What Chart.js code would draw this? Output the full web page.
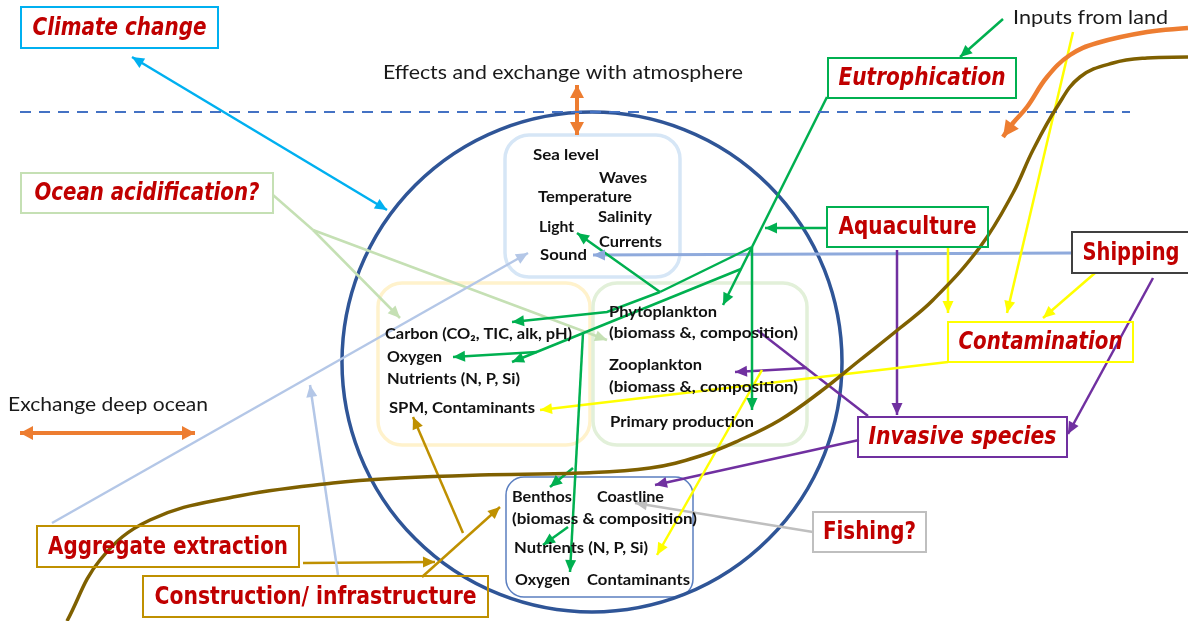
<!DOCTYPE html>
<html>
<head>
<meta charset="utf-8">
<script src="https://cdn.jsdelivr.net/npm/chart.js@4.4.1/dist/chart.umd.min.js"></script>
<style>
  html, body { margin: 0; padding: 0; background: #fff; }
  #wrap { width: 1188px; height: 621px; }
</style>
</head>
<body>
<div id="wrap"><canvas id="diagram" width="1188" height="621"></canvas></div>
<script>
// ---- diagram data (page coordinates, y grows downwards) ----
const coastX = [67, 100, 150, 233, 333, 400, 480, 580, 650, 700, 740, 780, 820, 860, 900, 933, 980, 1013, 1033, 1057, 1080, 1113, 1147, 1188];
const coastY = [621, 560, 520, 497, 483, 478, 475, 473, 468, 456, 440, 420, 392, 360, 328, 300, 247, 193, 150, 107, 77, 63, 58, 57];
const runoffX = [1188, 1147, 1097, 1070, 1047, 1027, 1013, 1003];
const runoffY = [28, 32, 43, 55, 77, 107, 123, 137];
const seaLevelX = [20, 1130];
const seaLevelY = [112, 112];

// double-headed exchanges
const atmosphereArrow = [577, 85, 577, 135];
const deepOceanArrow = [20, 433, 195, 433];
const climateArrow = [132, 57, 387, 210];

// one-way arrows, flat x,y lists, head at the last point
const greenArrows = [
  [1003, 19, 960, 57],
  [827, 228, 765, 228],
  [752, 247, 723, 305],
  [752, 247, 752, 410],
  [660, 292, 577, 233],
  [660, 292, 607, 312, 512, 322],
  [741, 269, 512, 362],
  [537, 352, 453, 357],
  [583, 333, 570, 572],
  [573, 468, 550, 487],
  [568, 527, 543, 545]
];
const greenLines = [[827, 97, 752, 247], [752, 247, 660, 292]];
const yellowArrows = [
  [948, 247, 948, 313],
  [1073, 32, 1007, 313],
  [1095, 273, 1043, 318],
  [948, 362, 540, 410],
  [762, 370, 657, 555]
];
const purpleArrows = [
  [897, 250, 897, 415],
  [1153, 278, 1068, 434],
  [807, 368, 735, 372],
  [859, 440, 655, 485]
];
const purpleLines = [[868, 416, 757, 330]];
const paleBlueArrows = [[52, 523, 528, 253], [338, 575, 310, 385]];
const shippingArrow = [1072, 253, 593, 255];
const paleGreenArrows = [[313, 230, 400, 318], [313, 230, 607, 340]];
const paleGreenLines = [[273, 195, 313, 230]];
const goldArrows = [[303, 563, 435, 562], [422, 577, 500, 507], [463, 533, 413, 417]];
const greyArrows = [[813, 532, 635, 503]];

// pressures (red labels in boxes)
const pressureLabels = ['Climate change', 'Ocean acidification?', 'Eutrophication', 'Aquaculture', 'Shipping',
  'Contamination', 'Invasive species', 'Fishing?', 'Aggregate extraction', 'Construction/ infrastructure'];
const pressureItalic = [true, true, true, false, false, true, true, false, false, false];
const pressureBoxX = [21, 21, 828, 827, 1072, 948, 858, 813, 37, 143];
const pressureBoxY = [7, 173, 58, 207, 232, 322, 417, 512, 526, 576];
const pressureBoxW = [197, 252, 188, 161, 118, 185, 209, 113, 262, 345];
const pressureBoxH = [41, 40, 40, 40, 41, 40, 40, 40, 41, 41];
const pressureTextW = [174, 225, 167, 138, 97, 164, 188, 93, 240, 322];
const pressureColors = ['#00b0f0', '#c5e0b4', '#00b050', '#00b050', '#404040', '#ffff00', '#7030a0', '#bfbfbf', '#bf9000', '#bf9000'];

// free notes
const noteLabels = ['Effects and exchange with atmosphere', 'Inputs from land', 'Exchange deep ocean'];
const noteX = [383, 1013, 8];
const noteY = [73, 18, 405];
const noteW = [360, 155, 200];

// state variables inside the circle
const stateLabels = ['Sea level', 'Waves', 'Temperature', 'Salinity', 'Light', 'Currents', 'Sound',
  'Carbon (CO\u2082, TIC, alk, pH)', 'Oxygen', 'Nutrients (N, P, Si)', 'SPM, Contaminants',
  'Phytoplankton', '(biomass &, composition)', 'Zooplankton', '(biomass &, composition)', 'Primary production',
  'Benthos', 'Coastline', '(biomass & composition)', 'Nutrients (N, P, Si)', 'Oxygen', 'Contaminants'];
const stateX = [533, 599, 538, 598, 539, 599, 540, 385, 387, 387, 389, 609, 609, 609, 609, 610, 512, 597, 512, 514, 515, 587];
const stateY = [155, 178, 197, 217, 227, 242, 255, 334, 357, 379, 408, 312, 333, 365, 387, 422, 497, 497, 519, 548, 580, 580];
const stateW = [66, 48, 94, 54, 35, 63, 47, 187, 55, 133, 146, 108, 189, 93, 189, 144, 60, 67, 185, 134, 55, 103];

// compartment boxes [x, y, w, h]
const compartments = [[505, 135, 175, 142], [378, 283, 212, 162], [593, 283, 214, 162], [506, 477, 187, 120]];
const compartmentColors = ['#d6e6f6', '#fff2cc', '#e2f0d9', '#5b7fc0'];
const circleCentre = [592, 362];
const circleRadius = 250;

// ---- build datasets ----
const datasets = [];
function addPath(flat, color, width, extra) {
  const pts = [];
  for (let i = 0; i < flat.length; i += 2) pts.push({ x: flat[i], y: flat[i + 1] });
  datasets.push(Object.assign({
    type: 'line', data: pts, borderColor: color, borderWidth: width,
    pointRadius: 0, fill: false, tension: 0, clip: false
  }, extra || {}));
}
function zip(xs, ys) {
  const out = [];
  xs.forEach((x, i) => out.push(x, ys[i]));
  return out;
}

addPath(zip(coastX, coastY), '#7f6000', 3.5, { tension: 0.4 });
addPath(zip(runoffX, runoffY), '#ed7d31', 4.5, { tension: 0.4, arrowEnd: true, headLen: 16, headHalf: 8 });
addPath(zip(seaLevelX, seaLevelY), '#4472c4', 2, { borderDash: [11, 8] });
addPath(atmosphereArrow, '#ed7d31', 4, { arrowEnd: true, arrowStart: true, headLen: 13, headHalf: 7 });
addPath(deepOceanArrow, '#ed7d31', 4, { arrowEnd: true, arrowStart: true, headLen: 13, headHalf: 7 });
addPath(climateArrow, '#00b0f0', 2.5, { arrowEnd: true, arrowStart: true });
greenLines.forEach(p => addPath(p, '#00b050', 2.5));
greenArrows.forEach(p => addPath(p, '#00b050', 2.5, { arrowEnd: true }));
yellowArrows.forEach(p => addPath(p, '#ffff00', 2.5, { arrowEnd: true }));
purpleLines.forEach(p => addPath(p, '#7030a0', 2.5));
purpleArrows.forEach(p => addPath(p, '#7030a0', 2.5, { arrowEnd: true }));
paleBlueArrows.forEach(p => addPath(p, '#b4c7e7', 2.5, { arrowEnd: true }));
addPath(shippingArrow, '#8faadc', 3, { arrowEnd: true });
paleGreenLines.forEach(p => addPath(p, '#c5e0b4', 2.5));
paleGreenArrows.forEach(p => addPath(p, '#c5e0b4', 2.5, { arrowEnd: true }));
goldArrows.forEach(p => addPath(p, '#bf9000', 2.5, { arrowEnd: true }));
greyArrows.forEach(p => addPath(p, '#bfbfbf', 2.5, { arrowEnd: true }));

// ---- drawing helpers ----
function fitText(ctx, text, x, y, w, font, color, align) {
  ctx.save();
  ctx.font = font;
  ctx.fillStyle = color;
  ctx.textAlign = align;
  ctx.textBaseline = 'middle';
  const s = w / ctx.measureText(text).width;
  ctx.translate(x, y);
  ctx.scale(s, 1);
  ctx.fillText(text, 0, 0);
  ctx.restore();
}
function head(ctx, from, to, len, half, color) {
  const a = Math.atan2(to.y - from.y, to.x - from.x);
  ctx.save();
  ctx.fillStyle = color;
  ctx.translate(to.x, to.y);
  ctx.rotate(a);
  ctx.beginPath();
  ctx.moveTo(0, 0);
  ctx.lineTo(-len, -half);
  ctx.lineTo(-len, half);
  ctx.closePath();
  ctx.fill();
  ctx.restore();
}

const backdrop = {
  id: 'backdrop',
  beforeDatasetsDraw(chart) {
    const { ctx, scales: { x, y } } = chart;
    ctx.save();
    compartments.forEach((b, i) => {
      const x0 = x.getPixelForValue(b[0]), y0 = y.getPixelForValue(b[1]);
      const x1 = x.getPixelForValue(b[0] + b[2]), y1 = y.getPixelForValue(b[1] + b[3]);
      ctx.beginPath();
      ctx.roundRect(x0, y0, x1 - x0, y1 - y0, i === 3 ? 18 : 24);
      ctx.lineWidth = i === 3 ? 1.5 : 3.5;
      ctx.strokeStyle = compartmentColors[i];
      ctx.stroke();
    });
    const cx = x.getPixelForValue(circleCentre[0]), cy = y.getPixelForValue(circleCentre[1]);
    const r = x.getPixelForValue(circleCentre[0] + circleRadius) - cx;
    ctx.beginPath();
    ctx.arc(cx, cy, r, 0, Math.PI * 2);
    ctx.lineWidth = 3.5;
    ctx.strokeStyle = '#2f5597';
    ctx.stroke();
    ctx.restore();
  }
};

const overlay = {
  id: 'overlay',
  afterDatasetsDraw(chart) {
    const { ctx, scales: { x, y } } = chart;
    // arrow heads on top of their shafts
    chart.data.datasets.forEach((ds, i) => {
      const pts = chart.getDatasetMeta(i).data;
      const len = ds.headLen || 12, half = ds.headHalf || 5.5;
      if (ds.arrowEnd) head(ctx, pts[pts.length - 2], pts[pts.length - 1], len, half, ds.borderColor);
      if (ds.arrowStart) head(ctx, pts[1], pts[0], len, half, ds.borderColor);
    });
    // pressure boxes
    pressureLabels.forEach((t, i) => {
      const x0 = x.getPixelForValue(pressureBoxX[i]), y0 = y.getPixelForValue(pressureBoxY[i]);
      const x1 = x.getPixelForValue(pressureBoxX[i] + pressureBoxW[i]), y1 = y.getPixelForValue(pressureBoxY[i] + pressureBoxH[i]);
      ctx.save();
      ctx.lineWidth = 2;
      ctx.strokeStyle = pressureColors[i];
      ctx.strokeRect(x0, y0, x1 - x0, y1 - y0);
      ctx.restore();
      const font = (pressureItalic[i] ? 'italic ' : '') + 'bold 24px "DejaVu Sans Condensed", "DejaVu Sans", sans-serif';
      fitText(ctx, t, (x0 + x1) / 2, (y0 + y1) / 2 + 1, pressureTextW[i], font, '#c00000', 'center');
    });
    noteLabels.forEach((t, i) => {
      fitText(ctx, t, x.getPixelForValue(noteX[i]), y.getPixelForValue(noteY[i]), noteW[i],
        '19px Lato, "Open Sans", sans-serif', '#1a1a1a', 'left');
    });
    stateLabels.forEach((t, i) => {
      fitText(ctx, t, x.getPixelForValue(stateX[i]), y.getPixelForValue(stateY[i]), stateW[i],
        'bold 15px Lato, "Open Sans", sans-serif', '#111', 'left');
    });
  }
};

new Chart(document.getElementById('diagram'), {
  type: 'scatter',
  data: { datasets },
  options: {
    responsive: false,
    animation: false,
    layout: { padding: 0 },
    events: [],
    scales: {
      x: { type: 'linear', min: 0, max: 1188, display: false },
      y: { type: 'linear', min: 0, max: 621, reverse: true, display: false }
    },
    plugins: { legend: { display: false }, tooltip: { enabled: false } }
  },
  plugins: [backdrop, overlay]
});
</script>
</body>
</html>
